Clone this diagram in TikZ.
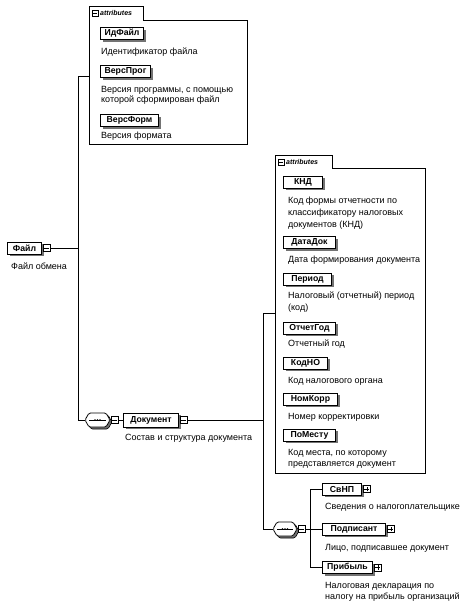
\documentclass[tikz,border=0pt]{standalone}
\usepackage{fontspec}
\setmainfont{Liberation Sans}
\usetikzlibrary{shadows}
\begin{document}
\begin{tikzpicture}[x=1pt,y=-1pt,
  elem/.style={draw, line width=1pt, fill=white, font=\bfseries\fontsize{8.7}{10}\selectfont,
    inner sep=0pt, minimum height=12, anchor=west,
    drop shadow={shadow xshift=2pt, shadow yshift=-2pt, fill=black!55, opacity=1}},
  desc/.style={font=\fontsize{9}{10.5}\selectfont, align=left, anchor=west, inner sep=0pt},
  desctwo/.style={desc, font=\fontsize{9}{11.8}\selectfont},
  pmbox/.style={draw, line width=0.5pt, fill=white, minimum size=7, inner sep=0pt, anchor=west},
  conn/.style={line width=0.6pt},
  attrbox/.style={line width=0.7pt},
  tabtxt/.style={font=\bfseries\itshape\fontsize{7}{8}\selectfont, anchor=west, inner sep=0pt},
  seqdot/.style={fill=black, inner sep=0pt, minimum size=1.6, circle}
]
\useasboundingbox (0,0) rectangle (465,608);
\fill[white] (0,0) rectangle (465,608);

% ---------- first attributes box ----------
\draw[attrbox] (89,144) -- (89,6) -- (143,6) -- (143,20) -- (247,20) -- (247,144) -- cycle;
\node[pmbox, minimum size=6.5] (tabm1) at (91.5,13) {};
\draw[line width=0.5pt] ([xshift=1.3pt]tabm1.west) -- ([xshift=-1.3pt]tabm1.east);
\node[tabtxt] (tabt1) at (100,13) {attributes};

\node[elem, minimum width=43] (idf) at (100,33.5) {ИдФайл};
\node[desc] (idfd) at (101,52) {Идентификатор файла};
\node[elem, minimum width=50] (vpr) at (100,71.5) {ВерсПрог};
\node[desc, font=\fontsize{9}{9.8}\selectfont] (vprd) at (101,95) {Версия программы, с помощью\\которой сформирован файл};
\node[elem, minimum width=58] (vfm) at (100,120.5) {ВерсФорм};
\node[desc] (vfmd) at (101,136) {Версия формата};

% ---------- root ----------
\node[elem, minimum width=34] (file) at (7,248) {Файл};
\node[pmbox] (filem) at ([xshift=1pt]file.east) {};
\draw[line width=0.5pt] ([xshift=1.3pt]filem.west) -- ([xshift=-1.3pt]filem.east);
\node[desc] (filed) at (11,266) {Файл обмена};

\coordinate (j1) at (78,248);
\coordinate (jtop) at (78,76);
\coordinate (jbot) at (78,420);
\coordinate (a1) at (89,76);
\draw[conn] (filem.east) -- (j1);
\draw[conn] (jtop) -- (jbot);
\draw[conn] (jtop) -- (a1);

% ---------- sequence 1 ----------
\draw[line width=0.6pt, fill=black!55, rounded corners=1.5pt] (87,422) -- (91,415) -- (108,415) -- (112,422) -- (108,429) -- (91,429) -- cycle;
\draw[line width=0.8pt, fill=white, rounded corners=1.5pt] (85,420) -- (89,413) -- (106,413) -- (110,420) -- (106,427) -- (89,427) -- cycle;
\node[inner sep=0pt, minimum width=25, minimum height=14] (seq1) at (97.5,420) {};
\draw[line width=0.5pt] (89,420) -- (106,420);
\node[seqdot] at (95,420) {};
\node[seqdot] at (97.5,420) {};
\node[seqdot] at (100,420) {};
\node[pmbox] (seq1m) at (111,420) {};
\draw[line width=0.5pt] ([xshift=1.3pt]seq1m.west) -- ([xshift=-1.3pt]seq1m.east);
\draw[conn] (jbot) -- (seq1.west);

\node[elem, minimum width=55, minimum height=14] (doc) at (123,420) {Документ};
\node[pmbox] (docm) at ([xshift=1pt]doc.east) {};
\draw[line width=0.5pt] ([xshift=1.3pt]docm.west) -- ([xshift=-1.3pt]docm.east);
\node[desc] (docd) at (125,438) {Состав и структура документа};
\draw[conn] (seq1m.east) -- (doc.west);

\coordinate (k1) at (263,420);
\coordinate (ktop) at (263,313);
\coordinate (kbot) at (263,529);
\coordinate (a2) at (275,313);
\draw[conn] (docm.east) -- (k1);
\draw[conn] (ktop) -- (kbot);
\draw[conn] (ktop) -- (a2);

% ---------- second attributes box ----------
\draw[attrbox] (275,473) -- (275,155) -- (332,155) -- (332,168) -- (425,168) -- (425,473) -- cycle;
\node[pmbox, minimum size=6.5] (tabm2) at (277.5,162) {};
\draw[line width=0.5pt] ([xshift=1.3pt]tabm2.west) -- ([xshift=-1.3pt]tabm2.east);
\node[tabtxt] (tabt2) at (286,162) {attributes};

\node[elem, minimum width=39] (knd) at (283,182) {КНД};
\node[desctwo] (kndd) at (288,213) {Код формы отчетности по\\классификатору налоговых\\документов (КНД)};
\node[elem, minimum width=52] (dd) at (283,242.5) {ДатаДок};
\node[desc] (ddd) at (288,260) {Дата формирования документа};
\node[elem, minimum width=48] (per) at (283,279) {Период};
\node[desctwo] (perd) at (288,302) {Налоговый (отчетный) период\\(код)};
\node[elem, minimum width=52] (og) at (283,328) {ОтчетГод};
\node[desc] (ogd) at (288,344) {Отчетный год};
\node[elem, minimum width=44] (kno) at (283,363) {КодНО};
\node[desc] (knod) at (288,381) {Код налогового органа};
\node[elem, minimum width=54] (nk) at (283,399) {НомКорр};
\node[desc] (nkd) at (288,417) {Номер корректировки};
\node[elem, minimum width=52] (pm) at (283,435) {ПоМесту};
\node[desctwo, font=\fontsize{9}{11}\selectfont] (pmd) at (288,458.5) {Код места, по которому\\представляется документ};

% ---------- sequence 2 ----------
\draw[line width=0.6pt, fill=black!55, rounded corners=1.5pt] (275,531) -- (279,524) -- (295,524) -- (299,531) -- (295,538) -- (279,538) -- cycle;
\draw[line width=0.8pt, fill=white, rounded corners=1.5pt] (273,529) -- (277,522) -- (293,522) -- (297,529) -- (293,536) -- (277,536) -- cycle;
\node[inner sep=0pt, minimum width=24, minimum height=14] (seq2) at (285,529) {};
\draw[line width=0.5pt] (277,529) -- (293,529);
\node[seqdot] at (282.5,529) {};
\node[seqdot] at (285,529) {};
\node[seqdot] at (287.5,529) {};
\node[pmbox] (seq2m) at (298,529) {};
\draw[line width=0.5pt] ([xshift=1.3pt]seq2m.west) -- ([xshift=-1.3pt]seq2m.east);
\draw[conn] (kbot) -- (seq2.west);

\coordinate (m1) at (310,529);
\coordinate (mtop) at (310,489);
\coordinate (mbot) at (310,567.5);
\draw[conn] (seq2m.east) -- (m1);
\draw[conn] (mtop) -- (mbot);

\node[elem, minimum width=39] (svnp) at (322,489) {СвНП};
\node[pmbox] (svnpp) at ([xshift=1pt]svnp.east) {};
\draw[line width=0.5pt] ([xshift=1.3pt]svnpp.west) -- ([xshift=-1.3pt]svnpp.east)
  ([yshift=1.3pt]svnpp.south) -- ([yshift=-1.3pt]svnpp.north);
\node[desc] (svnpd) at (325,507) {Сведения о налогоплательщике};

\node[elem, minimum width=63] (pod) at (322,529) {Подписант};
\node[pmbox] (podp) at ([xshift=1pt]pod.east) {};
\draw[line width=0.5pt] ([xshift=1.3pt]podp.west) -- ([xshift=-1.3pt]podp.east)
  ([yshift=1.3pt]podp.south) -- ([yshift=-1.3pt]podp.north);
\node[desc] (podd) at (325,548) {Лицо, подписавшее документ};

\node[elem, minimum width=50] (prib) at (322,567.5) {Прибыль};
\node[pmbox] (pribp) at ([xshift=1pt]prib.east) {};
\draw[line width=0.5pt] ([xshift=1.3pt]pribp.west) -- ([xshift=-1.3pt]pribp.east)
  ([yshift=1.3pt]pribp.south) -- ([yshift=-1.3pt]pribp.north);
\node[desc] (pribd) at (325,592) {Налоговая декларация по\\налогу на прибыль организаций};

\draw[conn] (mtop) -- (svnp.west);
\draw[conn] (m1) -- (pod.west);
\draw[conn] (mbot) -- (prib.west);
\end{tikzpicture}
\end{document}
